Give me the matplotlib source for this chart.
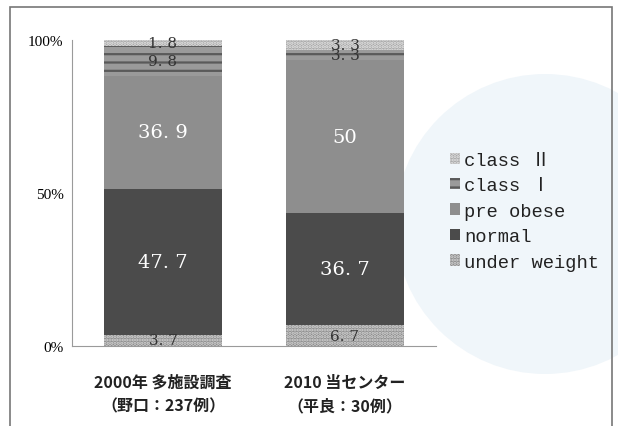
import matplotlib.pyplot as plt
import numpy as np
from matplotlib.patches import Patch, Ellipse, Rectangle

# BMI distribution (%) per survey, bottom to top
groups = ['2000年 多施設調査\n（野口：237例）', '2010 当センター\n（平良：30例）']
categories = ['under weight', 'normal', 'pre obese', 'class Ⅰ', 'class Ⅱ']
under_weight = [3.7, 6.7]
normal = [47.7, 36.7]
pre_obese = [36.9, 50.0]
class_1 = [9.8, 3.3]
class_2 = [1.8, 3.3]
series = [under_weight, normal, pre_obese, class_1, class_2]

# face, hatch colour, hatch, label colour
styles = [
    ('#8c8c8c', '#d6d6d6', '.....', '#333333'),
    ('#4b4b4b', '#4b4b4b', None, 'white'),
    ('#8e8e8e', '#8e8e8e', None, 'white'),
    ('#9a9a9a', '#5a5a5a', '--', '#333333'),
    ('#a8a8a8', '#e4e4e4', '.....', '#333333'),
]

W, H = 618, 427
plt.rcParams['hatch.linewidth'] = 1.6
fig = plt.figure(figsize=(W / 100, H / 100), dpi=100)

# faint pie in the background and the outer frame
r = 150
fig.patches.append(Ellipse((545 / W, 1 - 225 / H), 2 * r / W, 2 * r / H,
                           transform=fig.transFigure,
                           facecolor='#f0f6fa', edgecolor='none', zorder=-2))
fig.patches.append(Rectangle((10 / W, -0.05), 602 / W, 1 - 8 / H + 0.05,
                             transform=fig.transFigure, fill=False,
                             edgecolor='#777777', linewidth=1.2, zorder=-1))

ax = fig.add_axes([72 / W, 80 / H, 364 / W, 306 / H])
ax.patch.set_alpha(0)

x = np.arange(len(groups))
width = 0.65
bottom = np.zeros(len(groups))
for vals, (face, hcol, hatch, tcol) in zip(series, styles):
    vals = np.array(vals)
    ax.bar(x, vals, width, bottom=bottom, color=face, edgecolor=hcol,
           hatch=hatch, linewidth=0)
    for xi, b, v in zip(x, bottom, vals):
        big = v > 20
        ax.text(xi, b + v / 2, f'{v:g}'.replace('.', '. '), ha='center', va='center',
                color=tcol, fontsize=14 if big else 11, family='DejaVu Serif')
    bottom += vals

ax.set_xlim(-0.5, 1.5)
ax.set_ylim(0, 100)
ax.set_yticks([0, 50, 100])
ax.set_yticklabels(['0%', '50%', '100%'], family='Liberation Serif', fontsize=11)
ax.set_xticks(x)
ax.set_xticklabels(groups, family='Noto Sans CJK JP', fontsize=11.5,
                   fontweight='bold', linespacing=1.6, color='#222222')
ax.tick_params(length=0, pad=6)
ax.tick_params(axis='x', pad=20)
for s in ['top', 'right']:
    ax.spines[s].set_visible(False)
for s in ['left', 'bottom']:
    ax.spines[s].set_color('#9a9a9a')

handles = [Patch(facecolor=f, edgecolor=h, hatch=ht, linewidth=0)
           for f, h, ht, _ in styles][::-1]
leg = fig.legend(handles, categories[::-1], loc='upper left',
                 bbox_to_anchor=(433 / W, 1 - 136 / H), frameon=False,
                 prop={'family': ['Liberation Mono', 'Noto Sans CJK JP'], 'size': 13.5},
                 handlelength=0.55, handleheight=0.55, handletextpad=0.2,
                 labelspacing=0.45)
for t in leg.get_texts():
    t.set_color('#222222')

fig.savefig('out.png', dpi=100)
